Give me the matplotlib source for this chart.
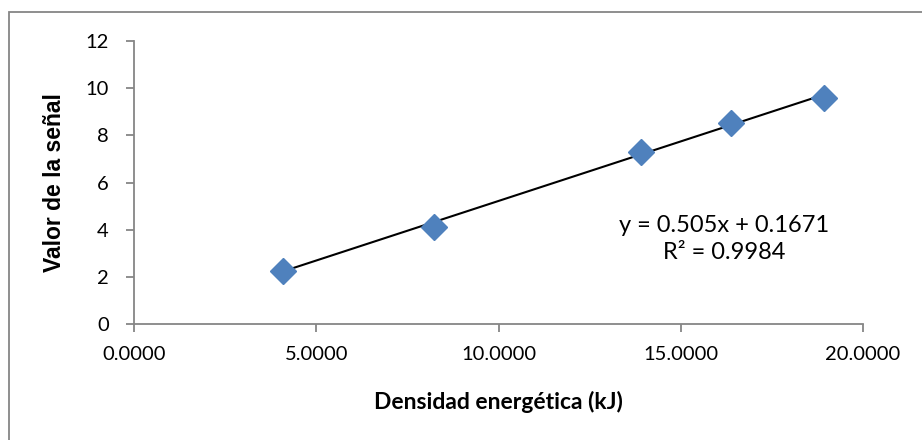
import numpy as np
import matplotlib.pyplot as plt
from matplotlib.patches import Rectangle

densidad = [4.08, 8.22, 13.90, 16.39, 18.94]
senal = [2.26, 4.13, 7.31, 8.51, 9.60]
slope, intercept = 0.505, 0.1671
xticks = [0, 5, 10, 15, 20]
yticks = [0, 2, 4, 6, 8, 10, 12]

GRAY = '#868686'
plt.rcParams['font.family'] = ['Lato', 'DejaVu Sans']

fig = plt.figure(figsize=(9.22, 4.4), dpi=100)
ax = fig.add_axes([134 / 922, 1 - 324 / 440, (863 - 134) / 922, (324 - 41) / 440])

xs = np.array([min(densidad), max(densidad)])
ax.plot(xs, slope * xs + intercept, color='black', lw=1.5, zorder=2)
ax.plot(densidad, senal, 'D', color='#4F81BD', markersize=13, zorder=3)

ax.set_xlim(0, 20)
ax.set_ylim(0, 12)
ax.set_xticks(xticks)
ax.set_xticklabels([f'{v:.4f}' for v in xticks])
ax.set_yticks(yticks)
for s in ['top', 'right']:
    ax.spines[s].set_visible(False)
for s in ['left', 'bottom']:
    ax.spines[s].set_color(GRAY)
    ax.spines[s].set_linewidth(1.3)
ax.tick_params(axis='both', direction='out', length=6, width=1.3, color=GRAY,
               labelsize=14.5, labelcolor='black')
ax.tick_params(axis='x', pad=10)
ax.tick_params(axis='y', pad=12)

ax.set_xlabel('Densidad energética (kJ)', fontsize=16.5, fontweight='bold', labelpad=20)
ax.set_ylabel('Valor de la señal', fontsize=16.5, fontweight='bold',
              family=['Liberation Sans', 'DejaVu Sans'], labelpad=14)

ax.text(16.19, 3.6, f'y = {slope}x + {intercept}\nR² = 0.9984', ha='center', va='center',
        fontsize=17, linespacing=1.35)

fig.patches.append(Rectangle((9 / 922, -0.1), 1.2, 1.1 - 12 / 440, transform=fig.transFigure,
                             fill=False, edgecolor=GRAY, lw=1.3))

fig.savefig('out.png', dpi=100)
